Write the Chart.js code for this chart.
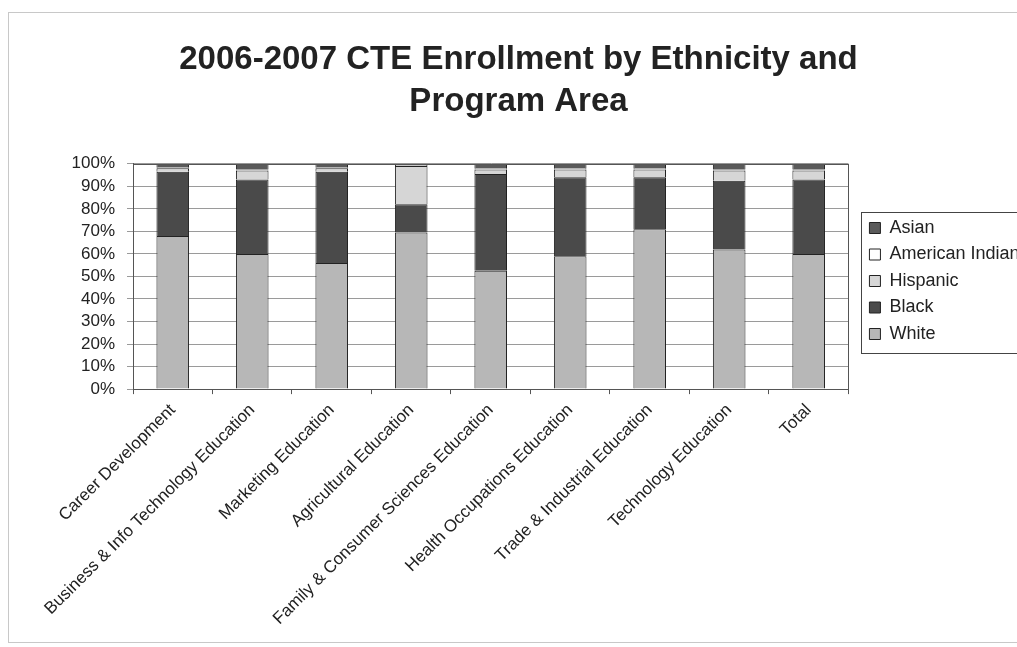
<!DOCTYPE html>
<html>
<head>
<meta charset="utf-8">
<script src="https://cdn.jsdelivr.net/npm/chart.js@4"></script>
<style>
  body { margin: 0; background: #fff; overflow: hidden; }
  #wrap { width: 1017px; height: 647px; }
</style>
</head>
<body>
<div id="wrap"><canvas id="chart"></canvas></div>
<script>
const programs = [
  "Career Development",
  "Business & Info Technology Education",
  "Marketing Education",
  "Agricultural Education",
  "Family & Consumer Sciences Education",
  "Health Occupations Education",
  "Trade & Industrial Education",
  "Technology Education",
  "Total"
];
// percent of enrollment, stacked bottom to top
const white    = [68,   60,   56,   69.5, 52.5, 59,   71,   62,   60];
const black    = [28.5, 33,   40.5, 12.5, 43,   35,   23,   30.5, 33];
const hispanic = [1.5,  4,    1.5,  17,   2,    3.5,  3.5,  4.5,  4];
const amIndian = [0.5,  0.5,  0.5,  0.5,  0.5,  0.5,  0.5,  0.5,  0.5];
const asian    = [1.5,  2.5,  1.5,  0.5,  2,    2,    2,    2.5,  2.5];
const yTicks = [0, 10, 20, 30, 40, 50, 60, 70, 80, 90, 100];

const FONT = "Arial, 'Liberation Sans', sans-serif";

const frame = {
  id: "frame",
  beforeUpdate(chart) {
    // legend column is wider than its labels
    chart.legend.afterFit = function () { this.width = 172; };
  },
  afterLayout(chart) {
    // move the legend box a little right and up, next to the plot
    const lg = chart.legend;
    lg.left += 12.5;
    lg.right += 12.5;
    const shift = 281 - (lg.top + lg.bottom) / 2;
    lg.top += shift;
    lg.bottom += shift;
  },
  beforeDraw(chart) {
    const { ctx } = chart;
    ctx.save();
    ctx.strokeStyle = "#c8c8c8";
    ctx.lineWidth = 1;
    ctx.strokeRect(8.5, 12.5, 1030, 630);
    ctx.restore();
  },
  afterDraw(chart) {
    const { ctx, chartArea: a } = chart;
    ctx.save();
    ctx.strokeStyle = "#555";
    ctx.lineWidth = 1;
    ctx.strokeRect(Math.round(a.left) + 0.5, Math.round(a.top) + 0.5, Math.round(a.right - a.left), Math.round(a.bottom - a.top));
    const lg = chart.legend;
    const hb = lg.legendHitBoxes;
    const top = Math.round(hb[0].top - 7);
    const bottom = Math.round(hb[hb.length - 1].top + hb[hb.length - 1].height + 10);
    ctx.strokeStyle = "#444";
    ctx.strokeRect(Math.round(lg.left) + 0.5, top + 0.5, 200, bottom - top);
    ctx.restore();
  }
};

const bar = (label, data, color) => ({
  label, data, backgroundColor: color, borderColor: "#222", borderWidth: 1,
  categoryPercentage: 1, barPercentage: 0.41
});

new Chart(document.getElementById("chart"), {
  type: "bar",
  data: {
    labels: programs,
    datasets: [
      bar("White", white, "#b7b7b7"),
      bar("Black", black, "#4a4a4a"),
      bar("Hispanic", hispanic, "#d6d6d6"),
      bar("American Indian", amIndian, "#ffffff"),
      bar("Asian", asian, "#5a5a5a")
    ]
  },
  options: {
    responsive: true,
    maintainAspectRatio: false,
    animation: false,
    layout: { padding: { left: 20, right: 0, top: 38, bottom: 12 } },
    plugins: {
      title: {
        display: true,
        text: ["2006-2007 CTE Enrollment by Ethnicity and", "Program Area"],
        color: "#222",
        font: { family: FONT, size: 33, weight: "bold", lineHeight: 1.3 },
        padding: { top: 0, bottom: 40 }
      },
      legend: {
        position: "right",
        reverse: true,
        labels: {
          color: "#222",
          font: { family: FONT, size: 18 },
          boxWidth: 11, boxHeight: 11, padding: 8.5
        }
      },
      tooltip: { enabled: false }
    },
    scales: {
      x: {
        stacked: true,
        grid: { display: true, drawOnChartArea: false, offset: true, tickLength: 5, color: "#555" },
        border: { color: "#555" },
        ticks: {
          color: "#222", minRotation: 45, maxRotation: 45, autoSkip: false, padding: 6,
          font: { family: FONT, size: 17 }
        }
      },
      y: {
        stacked: true, min: 0, max: 100,
        afterBuildTicks(scale) { scale.ticks = yTicks.map(v => ({ value: v })); },
        afterFit(scale) { scale.width = 113; },
        grid: { color: "#9a9a9a", tickLength: 6 },
        border: { color: "#555" },
        ticks: {
          color: "#222", padding: 12, autoSkip: false,
          font: { family: FONT, size: 17 },
          callback: v => v + "%"
        }
      }
    }
  },
  plugins: [frame]
});
</script>
</body>
</html>
